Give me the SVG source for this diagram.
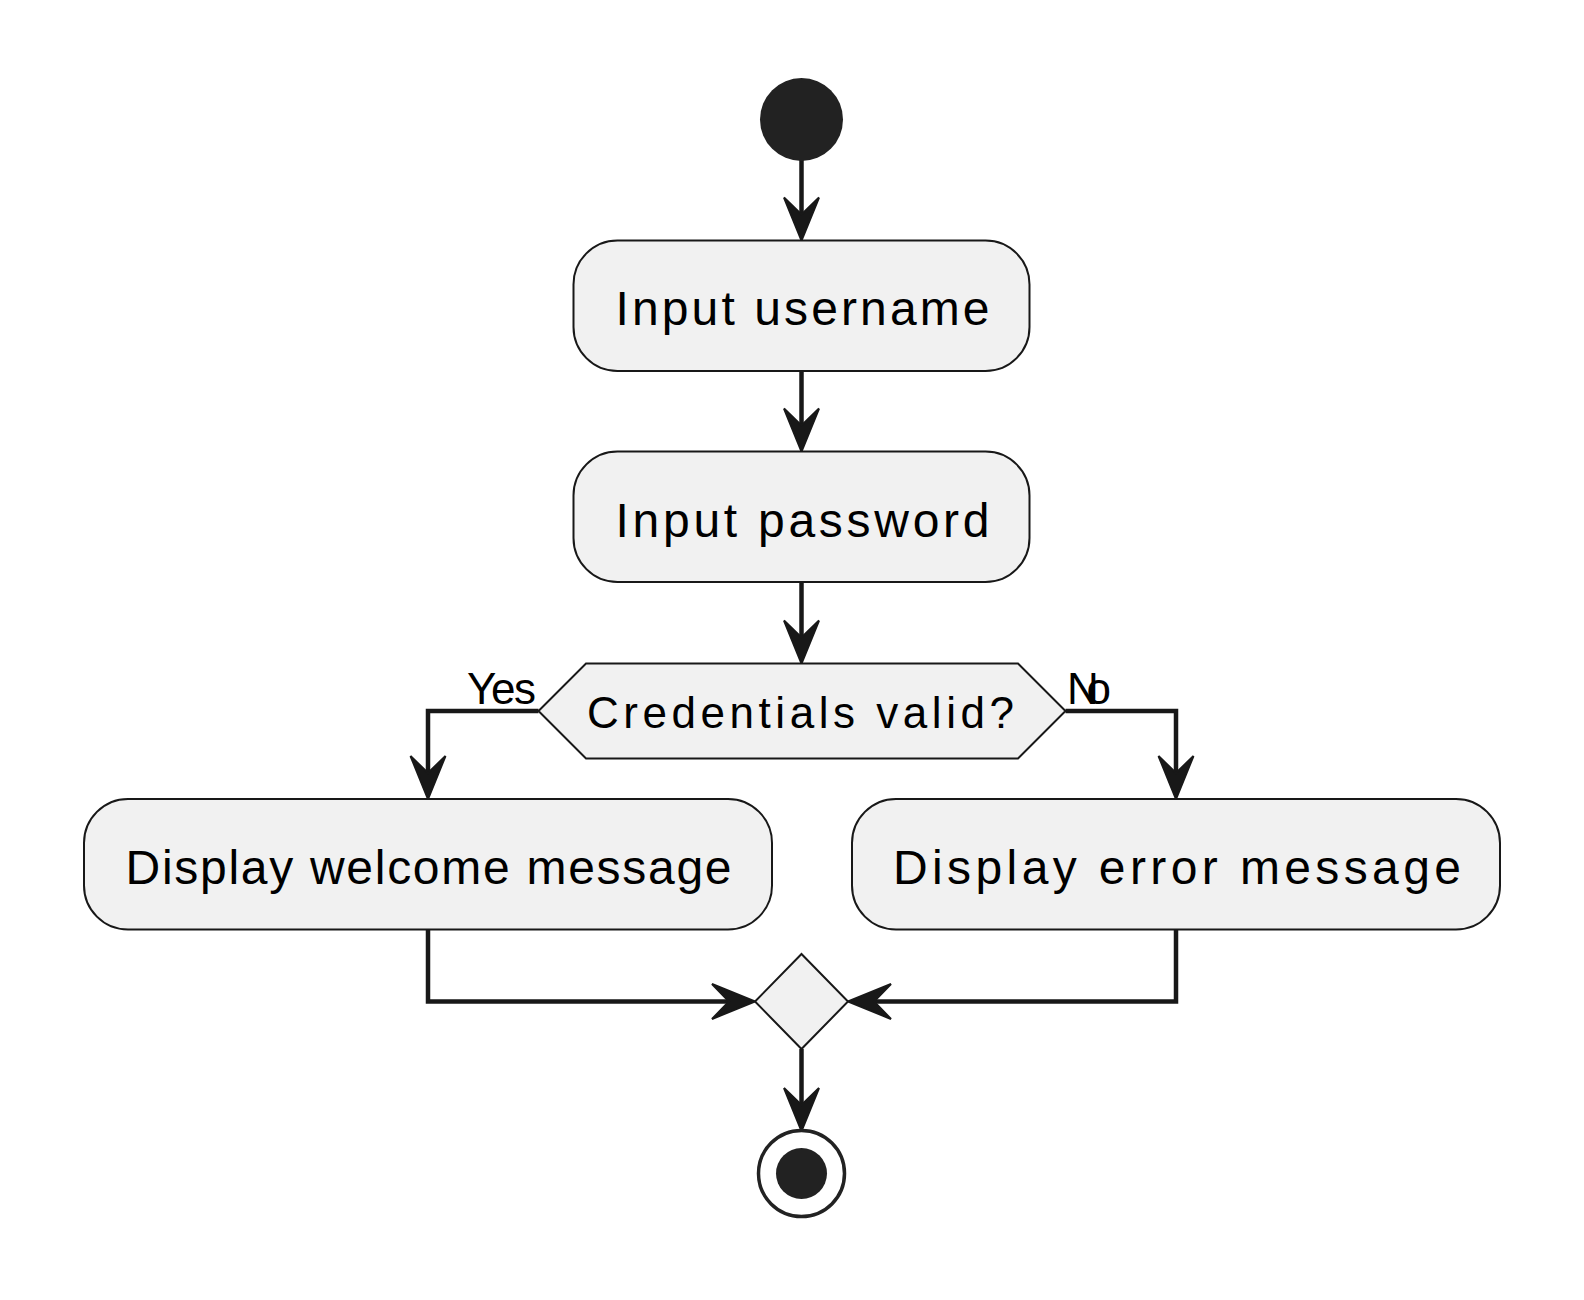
<svg xmlns="http://www.w3.org/2000/svg" width="1584" height="1300" viewBox="0 0 1584 1300">
<style>
  .box { fill: #F1F1F1; stroke: #181818; stroke-width: 2; }
  .lbl { font-family: "Liberation Sans", Arial, sans-serif; font-size: 48px; fill: #000000; }
  .dlbl { font-family: "Liberation Sans", Arial, sans-serif; font-size: 44px; fill: #000000; }
  .edge { fill: none; stroke: #181818; stroke-width: 4.5; }
  .ah { fill: #181818; stroke: #181818; stroke-width: 2; stroke-linejoin: miter; }
</style>
<rect x="0" y="0" width="1584" height="1300" fill="#FFFFFF"/>

<g id="connectors">
  <line class="edge" x1="801.5" y1="160" x2="801.5" y2="225"/>
  <polygon class="ah" points="801.5,240.5 784,197.5 801.5,214.5 819,197.5"/>

  <line class="edge" x1="801.5" y1="371" x2="801.5" y2="436"/>
  <polygon class="ah" points="801.5,451.5 784,408.5 801.5,425.5 819,408.5"/>

  <line class="edge" x1="801.5" y1="582" x2="801.5" y2="648"/>
  <polygon class="ah" points="801.5,663.5 784,620.5 801.5,637.5 819,620.5"/>

  <polyline class="edge" points="538.5,711 428,711 428,784"/>
  <polygon class="ah" points="428,799 410.5,756 428,773 445.5,756"/>

  <polyline class="edge" points="1065.5,711 1176,711 1176,784"/>
  <polygon class="ah" points="1176,799 1158.5,756 1176,773 1193.5,756"/>

  <polyline class="edge" points="428,929.5 428,1001.5 740,1001.5"/>
  <polygon class="ah" points="755,1001.5 712,984 729,1001.5 712,1019"/>

  <polyline class="edge" points="1176,929.5 1176,1001.5 863,1001.5"/>
  <polygon class="ah" points="848,1001.5 891,984 874,1001.5 891,1019"/>

  <line class="edge" x1="801.5" y1="1049" x2="801.5" y2="1116"/>
  <polygon class="ah" points="801.5,1131 784,1088 801.5,1105 819,1088"/>

  <text class="dlbl" x="467" y="704" textLength="69" lengthAdjust="spacing">Yes</text>
  <text class="dlbl" x="1067" y="704" textLength="44" lengthAdjust="spacing">No</text>
</g>

<g id="start">
  <circle cx="801.5" cy="119.5" r="41.5" fill="#222222"/>
</g>

<g id="input_username">
  <rect class="box" x="573.5" y="240.5" width="456" height="130.5" rx="44" ry="44"/>
  <text class="lbl" x="615.5" y="325" textLength="374" lengthAdjust="spacing">Input username</text>
</g>

<g id="input_password">
  <rect class="box" x="573.5" y="451.5" width="456" height="130.5" rx="44" ry="44"/>
  <text class="lbl" x="615.5" y="536.5" textLength="374" lengthAdjust="spacing">Input password</text>
</g>

<g id="decision">
  <polygon class="box" points="538.5,711 586,663.5 1018,663.5 1065.5,711 1018,758.5 586,758.5"/>
  <text class="dlbl" x="587" y="728" textLength="427" lengthAdjust="spacing">Credentials valid?</text>
</g>

<g id="display_welcome">
  <rect class="box" x="84" y="799" width="688" height="130.5" rx="44" ry="44"/>
  <text class="lbl" x="125.5" y="884" textLength="606" lengthAdjust="spacing">Display welcome message</text>
</g>

<g id="display_error">
  <rect class="box" x="852" y="799" width="648" height="130.5" rx="44" ry="44"/>
  <text class="lbl" x="893" y="884" textLength="568" lengthAdjust="spacing">Display error message</text>
</g>

<g id="merge">
  <polygon class="box" points="801.5,954 848,1001.5 801.5,1049 755,1001.5"/>
</g>

<g id="end">
  <circle cx="801.5" cy="1173.5" r="43" fill="#FFFFFF" stroke="#222222" stroke-width="3.5"/>
  <circle cx="801.5" cy="1173.5" r="25.5" fill="#222222"/>
</g>
</svg>
